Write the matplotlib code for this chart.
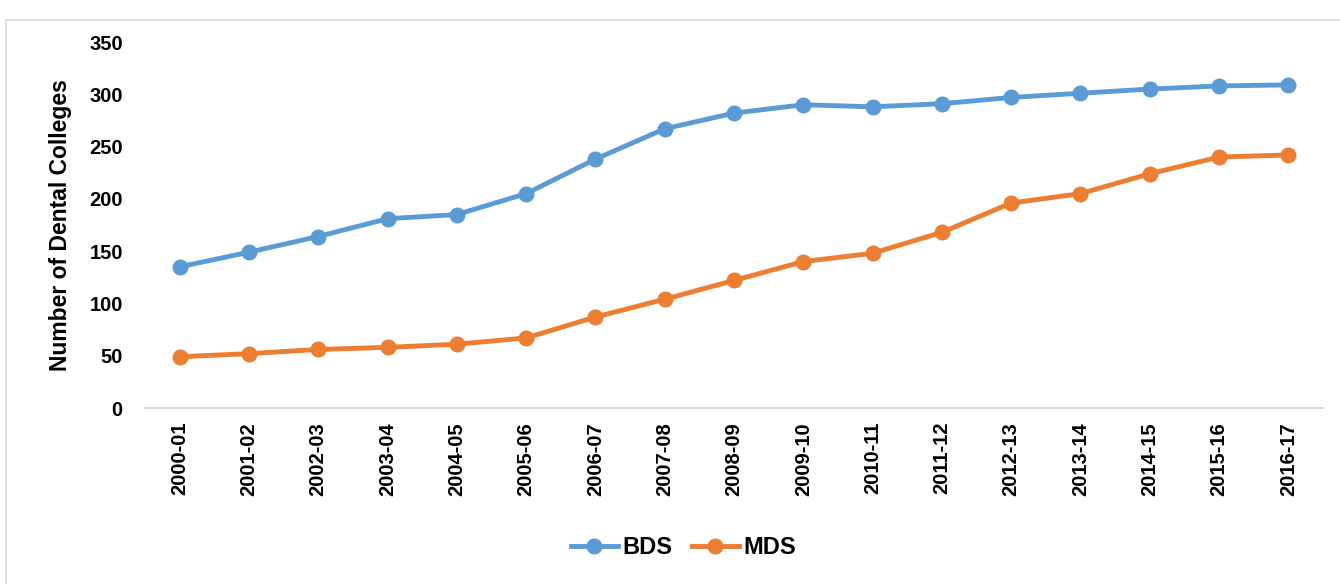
import matplotlib
matplotlib.use('Agg')
import matplotlib.pyplot as plt
from matplotlib.patches import Rectangle

plt.rcParams['font.family'] = ['Liberation Sans', 'DejaVu Sans']
plt.rcParams['font.weight'] = 'bold'

YEARS = ['2000-01', '2001-02', '2002-03', '2003-04', '2004-05', '2005-06', '2006-07',
         '2007-08', '2008-09', '2009-10', '2010-11', '2011-12', '2012-13', '2013-14',
         '2014-15', '2015-16', '2016-17']
BDS = [135, 149, 164, 181, 185, 205, 238, 267, 282, 290, 288, 291, 297, 301, 305, 308, 309]
MDS = [49, 52, 56, 58, 61, 67, 87, 104, 122, 140, 148, 168, 196, 205, 224, 240, 242]
Y_TICKS = [0, 50, 100, 150, 200, 250, 300, 350]

BLUE = '#5B9BD5'
ORANGE = '#ED7D31'

fig = plt.figure(figsize=(13.4, 5.84), dpi=100)
fig.patch.set_facecolor('white')
# outer chart border
fig.patches.append(Rectangle((6 / 1340, -0.01), 1.0, 0.986 - 0.01, transform=fig.transFigure,
                             fill=False, edgecolor='#d9d9d9', linewidth=1.2))

ax = fig.add_axes([145 / 1340, 1 - 408 / 584, (1323 - 145) / 1340, (408 - 42) / 584])
x = range(len(YEARS))
ax.plot(x, BDS, color=BLUE, linewidth=3.5, marker='o', markersize=10.5, label='BDS')
ax.plot(x, MDS, color=ORANGE, linewidth=3.5, marker='o', markersize=10.5, label='MDS')

ax.set_xlim(-0.5, len(YEARS) - 0.5)
ax.set_ylim(0, 350)
ax.set_yticks(Y_TICKS)
ax.set_xticks(list(x))
ax.set_xticklabels(YEARS, rotation=90, fontsize=14.5, fontweight='bold')
ax.tick_params(axis='y', labelsize=14.5, length=0, pad=16)
ax.tick_params(axis='x', length=0, pad=10)
for s in ['top', 'right', 'left']:
    ax.spines[s].set_visible(False)
ax.spines['bottom'].set_color('#d9d9d9')
ax.spines['bottom'].set_linewidth(1.5)
ax.set_ylabel('Number of Dental Colleges', fontsize=16.5, fontweight='bold', labelpad=12)

fig.legend(loc='center', bbox_to_anchor=(0.51, 0.062), ncol=2, frameon=False,
           prop={'size': 17, 'weight': 'bold'}, handlelength=2.0, columnspacing=0.8,
           handletextpad=0.2)

fig.savefig('out.png', dpi=100)
